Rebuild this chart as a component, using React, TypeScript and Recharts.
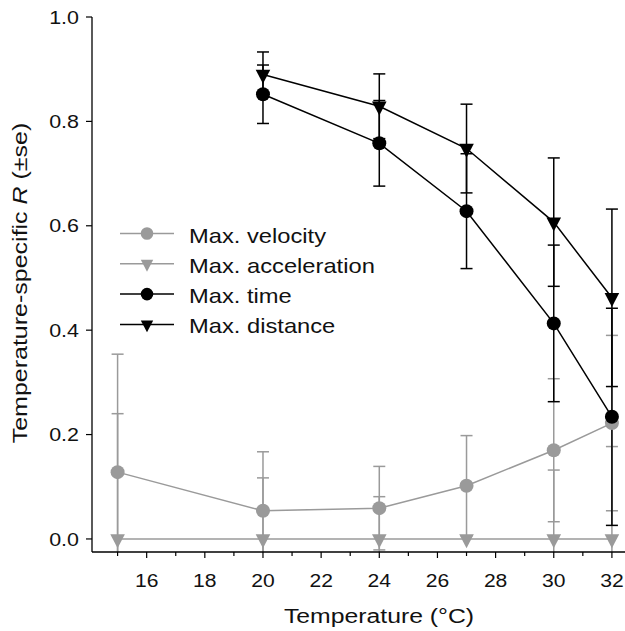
import { LineChart, Line, XAxis, YAxis, ErrorBar } from 'recharts';

// temperatures (°C) and temperature-specific R (± se) per trait
const temps = [15, 20, 24, 27, 30, 32];

const velocity = [0.128, 0.054, 0.059, 0.102, 0.17, 0.222];
const velocitySe = [0.226, 0.113, 0.08, 0.096, 0.137, 0.168];

const accel = [0, 0, 0, 0, 0, 0];
const accelSe = [0.24, 0.117, 0.081, 0, 0.132, 0.177];

const maxTime = [null, 0.852, 0.758, 0.628, 0.413, 0.234];
const maxTimeSe = [null, 0.056, 0.082, 0.11, 0.15, 0.208];

const distance = [null, 0.89, 0.829, 0.748, 0.607, 0.462];
const distanceSe = [null, 0.043, 0.062, 0.085, 0.123, 0.17];

const xTicks = [15, 16, 17, 18, 19, 20, 21, 22, 23, 24, 25, 26, 27, 28, 29, 30, 31, 32];
const yTicks = [0, 0.2, 0.4, 0.6, 0.8, 1.0];

const legendLabels = ['Max. velocity', 'Max. acceleration', 'Max. time', 'Max. distance'];

const GRAY = '#9a9a9a';
const BLACK = '#000';
const FONT = '"Liberation Sans", Arial, Helvetica, sans-serif';

const data = temps.map((t, i) => ({
  t,
  vel: velocity[i],
  velSe: velocitySe[i],
  acc: accel[i],
  accSe: accelSe[i],
  time: maxTime[i],
  timeSe: maxTimeSe[i],
  dist: distance[i],
  distSe: distanceSe[i],
}));

const circleDot = (color: string, r = 7) => (props: any) => {
  const { cx, cy, index } = props;
  if (cx == null || cy == null || isNaN(cy)) return <g key={`c${index}`} />;
  return <circle key={`c${index}`} cx={cx} cy={cy} r={r} fill={color} />;
};

const triPoints = (cx: number, cy: number, s = 1) =>
  `${cx - 7.3 * s},${cy - 4.7 * s} ${cx + 7.3 * s},${cy - 4.7 * s} ${cx},${cy + 9.3 * s}`;

const triangleDot = (color: string) => (props: any) => {
  const { cx, cy, index } = props;
  if (cx == null || cy == null || isNaN(cy)) return <g key={`t${index}`} />;
  return <polygon key={`t${index}`} points={triPoints(cx, cy)} fill={color} />;
};

const XTick = (props: any) => {
  const { x, y, payload } = props;
  const major = payload.value % 2 === 0;
  return (
    <g>
      <line x1={x} x2={x} y1={y} y2={y + (major ? 6 : 4)} stroke={BLACK} strokeWidth={1.2} />
      {major && (
        <text
          transform={`translate(${x},${y + 35}) scale(1.14,1)`}
          textAnchor="middle"
          fontSize={18.5}
          fontFamily={FONT}
          fill="#111"
        >
          {payload.value}
        </text>
      )}
    </g>
  );
};

const YTick = (props: any) => {
  const { x, y, payload } = props;
  return (
    <text
      transform={`translate(${x},${y + 6.6}) scale(1.16,1)`}
      textAnchor="end"
      fontSize={18.5}
      fontFamily={FONT}
      fill="#111"
    >
      {Number(payload.value).toFixed(1)}
    </text>
  );
};

export default function App() {
  const legendColors = [GRAY, GRAY, BLACK, BLACK];
  return (
    <div style={{ position: 'absolute', left: 0, top: 0, width: 625, height: 631, background: '#fff' }}>
      {/* error bars stop at the x axis, as in the original figure */}
      <style>{'.recharts-errorBar, .recharts-errorBars { clip-path: url(#plotClip); }'}</style>
      <svg width={0} height={0} style={{ position: 'absolute' }}>
        <defs>
          <clipPath id="plotClip" clipPathUnits="userSpaceOnUse">
            <rect x={0} y={0} width={625} height={552} />
          </clipPath>
        </defs>
      </svg>
      <LineChart width={625} height={631} data={data} margin={{ top: 17, right: 0, bottom: 0, left: 0 }}>
        <XAxis
          type="number"
          dataKey="t"
          domain={[14.12, 32.45]}
          ticks={xTicks}
          interval={0}
          allowDataOverflow
          height={79}
          tickSize={0}
          tickMargin={0}
          tickLine={false}
          axisLine={{ stroke: BLACK, strokeWidth: 1.3 }}
          tick={<XTick />}
        />
        <YAxis
          type="number"
          domain={[-0.025, 1]}
          ticks={yTicks}
          interval={0}
          allowDataOverflow
          width={92}
          tickSize={6}
          tickMargin={7}
          tickLine={{ stroke: BLACK, strokeWidth: 1.2 }}
          axisLine={{ stroke: BLACK, strokeWidth: 1.3 }}
          tick={<YTick />}
        />
        <Line
          dataKey="vel"
          stroke={GRAY}
          strokeWidth={1.5}
          dot={circleDot(GRAY)}
          activeDot={false}
          isAnimationActive={false}
        >
          <ErrorBar dataKey="velSe" width={6} stroke={GRAY} strokeWidth={1.5} direction="y" />
        </Line>
        <Line
          dataKey="acc"
          stroke={GRAY}
          strokeWidth={1.5}
          dot={triangleDot(GRAY)}
          activeDot={false}
          isAnimationActive={false}
        >
          <ErrorBar dataKey="accSe" width={6} stroke={GRAY} strokeWidth={1.5} direction="y" />
        </Line>
        <Line
          dataKey="time"
          stroke={BLACK}
          strokeWidth={1.5}
          dot={circleDot(BLACK)}
          activeDot={false}
          isAnimationActive={false}
        >
          <ErrorBar dataKey="timeSe" width={6} stroke={BLACK} strokeWidth={1.5} direction="y" />
        </Line>
        <Line
          dataKey="dist"
          stroke={BLACK}
          strokeWidth={1.5}
          dot={triangleDot(BLACK)}
          activeDot={false}
          isAnimationActive={false}
        >
          <ErrorBar dataKey="distSe" width={6} stroke={BLACK} strokeWidth={1.5} direction="y" />
        </Line>
      </LineChart>
      <svg
        width={625}
        height={631}
        style={{ position: 'absolute', left: 0, top: 0, pointerEvents: 'none' }}
        fontFamily={FONT}
      >
        {legendLabels.map((label, i) => {
          const y = 233.5 + i * 30.3;
          const c = legendColors[i];
          return (
            <g key={label}>
              <line x1={120} x2={174} y1={y} y2={y} stroke={c} strokeWidth={1.5} />
              {i % 2 === 0 ? (
                <circle cx={147} cy={y} r={6.3} fill={c} />
              ) : (
                <polygon points={triPoints(147, y, 0.85)} fill={c} />
              )}
              <text transform={`translate(189,${y + 9}) scale(1.13,1)`} fontSize={21} fill="#111">
                {label}
              </text>
            </g>
          );
        })}
        <text transform="translate(379,623.3) scale(1.18,1)" textAnchor="middle" fontSize={21} fill="#111">
          Temperature (°C)
        </text>
        <text transform="translate(27,283) rotate(-90) scale(1.19,1)" textAnchor="middle" fontSize={21} fill="#111">
          Temperature-specific <tspan fontStyle="italic">R</tspan> (±se)
        </text>
      </svg>
    </div>
  );
}
